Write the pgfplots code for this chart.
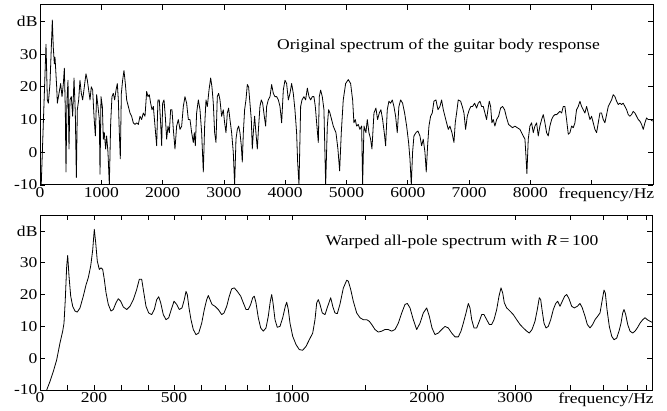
\documentclass[border=0pt]{standalone}
\usepackage{pgfplots}
\usepackage{pgfplotstable}
\pgfplotsset{compat=1.18}
\usepackage{fontspec}
\setmainfont{Liberation Serif}[FakeStretch=1.17]
\newcommand{\chartfont}{\fontsize{15}{18}\selectfont}

\pgfplotstableread{
f db
20 -10
60 12
98 33
120 16
136 15
163 21
201 40.4
217 32
234 27
245 29
272 20
283 15
310 18
337 21
359 17
381 21
397 25.7
413 13
424 -6
440 16
457 22
473 1
489 16
511 17
533 11
555 22.7
576 12
593 -7.7
609 13
631 16
652 22
674 18
696 16
723 20
750 24
772 22
794 19
816 16
837 20
859 19
881 11
903 5
924 17.6
946 14
968 10
979 -6.7
995 17
1017 14
1033 4
1049 6
1071 1
1087 5
1109 0
1131 -10
1153 9
1174 17
1196 18
1218 16
1240 19
1261 21
1278 16
1294 6
1310 -2
1327 18
1348 22
1370 25
1392 21
1414 16
1441 14
1468 12
1495 11
1522 9
1550 8.5
1577 9
1604 8.5
1631 11
1658 10
1685 12
1713 11
1740 18.6
1762 17
1783 17.6
1805 15
1827 13
1849 14
1876 8
1903 2
1924 16
1946 16
1968 9
1985 2
2001 15
2023 16
2044 11
2066 4
2088 8
2110 6
2131 13
2153 13
2175 7
2202 1
2229 8
2256 10
2284 7
2311 8
2338 14
2365 17
2392 15
2420 10
2447 10
2474 6
2501 3
2517 6
2534 2
2555 12
2583 16
2610 13
2637 6
2664 -6
2686 8
2708 16
2730 14
2757 19
2784 22.7
2805 20
2827 15
2849 6
2871 3
2892 17
2914 18
2936 16
2963 11
2990 13
3012 9
3034 6
3056 12
3077 13.5
3099 10
3126 6
3153 0
3175 -10
3197 4
3219 7
3240 8
3262 6
3284 2
3300 -3
3317 6
3338 13
3360 16
3382 20.7
3403 20
3425 15
3447 10
3463 1
3480 6
3501 11
3518 7
3545 1
3567 8
3588 14
3610 16
3632 15
3659 11
3681 8
3697 14
3724 16
3752 17
3779 20.7
3806 18
3833 17
3860 17
3888 16
3915 14
3942 9
3969 19
3996 22
4023 21
4051 16
4078 18
4105 21
4132 18
4159 13
4186 6
4203 -3
4225 -10
4252 14
4274 16
4306 17
4333 16
4361 19.6
4388 17
4415 16
4442 17
4469 17
4491 14
4513 9
4540 3
4556 17
4578 19
4605 17
4632 13
4660 -10
4687 8
4708 13
4730 12
4784 8
4828 6
4860 1
4888 -5.7
4915 6
4947 16
4986 21
5029 22.2
5067 21
5100 16
5121 9
5143 10
5165 8
5192 8.5
5219 7
5247 8
5263 -10
5285 8
5317 6
5339 10
5366 6
5393 4
5415 1
5448 12
5480 13.5
5507 10
5535 12
5562 13
5589 10
5616 6
5638 2
5665 13
5692 15.6
5720 15
5747 16
5774 14
5801 11
5828 6
5855 14
5883 16
5915 15
5948 12
5981 8
6013 3
6035 -2
6057 -10
6078 0
6100 5
6133 6
6165 6.5
6198 5
6225 2
6252 4
6280 0
6301 -6
6323 2
6345 8
6372 11
6399 12
6426 15.6
6459 16
6492 13
6524 14
6551 16
6579 13
6606 11
6633 9
6660 7
6687 8
6720 6
6753 3
6774 9
6796 12
6823 16
6861 15.6
6889 14
6916 12
6943 7
6970 11
7003 13
7030 14
7057 14
7090 15
7122 13.5
7149 15
7177 15.6
7204 14
7231 14
7258 12
7285 10
7307 13
7329 15.6
7351 14
7372 9
7394 10
7421 8
7449 10
7481 11
7514 13.5
7546 14
7579 13
7612 10.5
7644 8.5
7677 8
7709 7.5
7747 8
7786 7.5
7829 7
7856 6
7883 5
7911 4
7927 -1
7943 -6.5
7965 4
7992 8
8019 9
8047 6
8074 8
8101 9
8128 5
8155 8
8183 10
8210 11.5
8237 9
8264 6
8291 5
8318 8
8346 10
8373 11
8400 11.5
8427 11.5
8454 12
8482 12.5
8509 12
8536 14
8563 14
8590 10
8618 5.5
8645 6
8672 8
8699 7.5
8726 9
8753 13
8781 14
8808 15.6
8835 14
8862 13
8889 12
8917 14
8944 12
8971 10
8998 11
9025 9
9052 7
9080 6
9107 9
9134 12
9161 12
9188 10
9215 9
9243 11.5
9270 14
9297 15
9324 16
9351 17.6
9379 17
9406 15.6
9433 14.6
9460 15
9487 14.6
9514 15
9542 14
9569 13
9596 11.5
9623 11
9650 11.5
9678 12.5
9705 12
9732 11
9759 10
9786 9.5
9814 8.5
9841 7
9868 9
9895 10.5
9922 10
9960 10
9993 9.5
}\origdata

\pgfplotstableread{
w db
6.7 -10
10 -7.3
13.3 -4.2
16.7 -0.5
20 4.8
22.7 8.5
24 11
25.3 18.5
26.7 29
27.7 32.3
29 25.8
30.7 19.5
32.7 16.3
35 14.8
37.3 14.5
40 15.8
43.3 19.5
46 23
48.3 25.3
50.7 29
52.7 34
54.3 40.5
55.7 36.3
57.3 30.5
59.3 27.9
61 28.4
62.7 27.9
64.3 24.8
66 20.6
68.3 16.9
71 14.8
73.3 15.3
76 17.4
78.3 18.7
80.7 17.9
83.3 16.1
86.7 15.3
90 16.3
93.3 18.4
96.7 21.6
99.3 24.8
101.7 24.8
103.3 21.6
106 16.3
108.7 14.2
111.7 13.7
114.3 15.3
116.7 18.4
118.7 19.3
120.7 17.4
123.3 13.7
126 12.1
128.7 12.7
131.3 15.3
134 17.9
136.7 16.9
139.3 15.3
142 15.8
144.3 18.4
146 21
147.3 20
149 15.8
151 12.1
153.3 9
156 7.4
158.7 7.9
161.7 11
164.3 15.3
166.7 18.4
168.3 19.7
170 18.4
172 16.9
175 16.3
178.3 15.3
181.7 13.7
184 14.2
186.7 16.3
189.3 19.5
191.7 21.8
194.3 22.1
197.3 21
200.7 19.5
203.3 17.4
206 15.3
208.3 15.3
210.7 16.9
212.7 19
214.3 19.5
216 17.4
218.3 12.7
220.7 9.5
223.3 8.5
226 9.5
228.3 13.2
230.3 17.9
231.7 20
233 17.4
235 12.1
237.3 9.7
240 10
242.7 12.7
245.3 16.3
246.7 17.6
248.3 15.3
250 11
252.7 6.9
256 4.3
259.3 2.7
262.7 2.5
266 3.7
269.3 5.8
272.7 7.9
275 12.1
276.7 17.4
278.3 18.4
280 16.9
282.3 14.2
285 13.7
287.7 16.3
290.7 19
293 16
295 14.2
297.3 14
300 17
303.3 22
306.7 24.5
308.3 24.2
310.7 21.6
313.3 17.9
316.7 14.2
320 12.7
323.3 12.1
326.7 12.1
329.3 11.6
331.7 10.6
335 9
338.3 8.2
341.7 8.5
345 9
348.3 9
351.7 8.5
355 9
358.3 11
361.7 14.2
365 16.9
367.3 17.2
370 15.8
373.3 12.1
376.7 9
380 11
383.3 14.2
386.7 15.8
389.3 13.2
392 9.5
395 7.4
398.3 7.9
401.7 9
405 10
408.3 9.5
411.7 7.9
415 6.7
418.3 6.7
421 8.5
423.3 11
426 14.2
428.3 17.2
430 15.8
431.7 12.1
434 9.5
436.7 9.5
439.3 11.6
441.7 13.7
444 13.7
446.7 12.1
449.3 10.6
451.7 10.6
454 12.1
456.7 15.3
459 19.5
461 22.1
462.7 20.5
464.3 17.4
466.7 15.8
470 14.8
473.3 13.7
476.7 12.1
480 10.6
483.3 9.5
486.7 8.5
489.3 7.9
492 9
495 11.6
497.3 15.3
499.3 19
500.7 18.4
502 15.3
504 11
506 9.5
508.3 10
510.7 12.1
513.3 15.3
515.7 17.2
517.7 17.9
520 16.3
522.3 17.9
524.7 19.5
526.7 20
529 18.7
531.7 16.3
534.3 15.8
537.3 16.3
540 17.2
542.3 15.8
545 13.2
547.3 10.6
550 9.5
552.7 10.6
555 12.1
557.7 13.2
560 14.2
562.3 18.4
564 21.4
565.3 20.5
567 15.3
569.3 10
571.7 6.9
574 5.8
576.7 6.3
579 8.5
581 11
582.7 14.2
584 15.3
585.7 13.7
587.7 10.6
590 8.5
592.7 7.9
595 8.5
597.3 9.5
600 11
602.7 12.1
605 12.7
607.3 12.1
610 11.6
612 11.3
}\warpdata

\pgfplotsset{
  every tick label/.append style={font=\chartfont},
  panel/.style={
    scale only axis,
    anchor=south west,
    ymin=-10, ymax=45,
    ytick={-10,0,10,20,30,40},
    yticklabels={-10,0,10,20,30,dB},
    scaled x ticks=false,
    scaled y ticks=false,
    tick align=inside,
    major tick length=5pt,
    minor tick length=5pt,
    axis line style={line width=1pt},
    every tick/.style={black, line width=0.8pt},
    xticklabel style={yshift=1pt},
    yticklabel style={xshift=1pt},
    clip=true,
  },
}

\begin{document}
\begin{tikzpicture}[x=1pt,y=1pt]
\path[use as bounding box] (0,0) rectangle (667,410);

\begin{axis}[panel,
  at={(40pt,225pt)},
  width=613pt, height=180pt,
  xmin=0, xmax=10000,
  xtick={0,1000,2000,3000,4000,5000,6000,7000,8000,9000},
  xticklabels={0,1000,2000,3000,4000,5000,6000,7000,8000,},
  extra x ticks={9241},
  extra x tick labels={frequency/Hz},
  extra x tick style={major tick length=0pt},
]
\addplot[black, line width=0.8pt, line join=round] table[x=f, y=db] {\origdata};
\node[anchor=base, font=\chartfont] at (axis cs:6500,31.3) {Original spectrum of the guitar body response};
\end{axis}

\begin{axis}[panel,
  at={(40pt,20pt)},
  width=612pt, height=175pt,
  xmin=0, xmax=612,
  xtick={0,27,54,81,108,134,161,185,207,229,252,325,387,475,530,563,587,606},
  xticklabels={0,,200,,,500,,,,,1000,,2000,3000,,,,},
  extra x ticks={566},
  extra x tick labels={frequency/Hz},
  extra x tick style={major tick length=0pt},
]
\addplot[black, line width=0.8pt, line join=round] table[x=w, y=db] {\warpdata};
\node[anchor=base, font=\chartfont] at (axis cs:422,35.3) {Warped all-pole spectrum with {\itshape R}\,=\,100};
\end{axis}
\end{tikzpicture}
\end{document}
